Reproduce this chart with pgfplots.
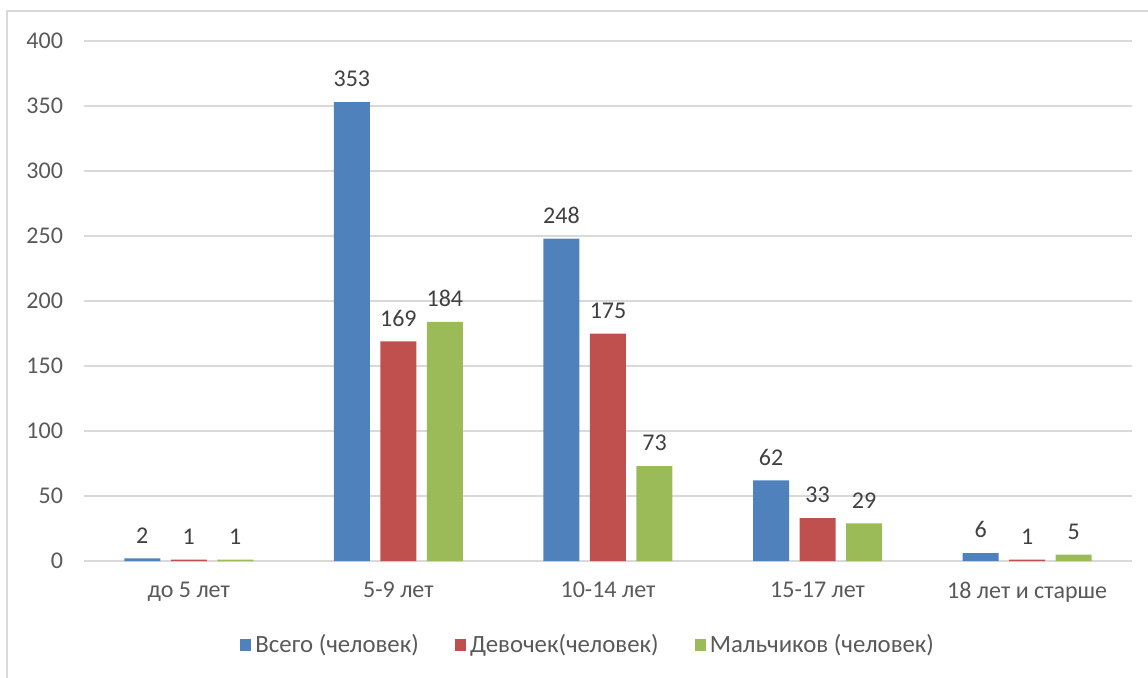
\documentclass[border=0pt]{standalone}
\usepackage{fontspec}
\setmainfont{Carlito}
\usepackage{pgfplots}
\pgfplotsset{compat=1.18}
\definecolor{cBlue}{HTML}{4F81BD}
\definecolor{cRed}{HTML}{C0504D}
\definecolor{cGreen}{HTML}{9BBB59}
\definecolor{cGrid}{HTML}{D9D9D9}
\definecolor{cText}{HTML}{595959}
\definecolor{cLabel}{HTML}{404040}
\begin{document}
\begin{tikzpicture}
\useasboundingbox (-42pt,-58pt) rectangle (532pt,280.5pt);
\draw[cGrid, line width=0.8pt] (-38.5pt,-60pt) -- (-38.5pt,275pt) -- (534pt,275pt);
\begin{axis}[
  at={(0,0)}, anchor=south west,
  scale only axis,
  width=524pt, height=260pt,
  font=\fontsize{12}{14}\selectfont,
  /pgf/number format/assume math mode=true,
  ybar=5.25pt,
  bar width=18pt,
  xmin=-0.5, xmax=4.5,
  ymin=0, ymax=400,
  ytick={0,50,...,400},
  xtick=data,
  xticklabels={до 5 лет, 5-9 лет, 10-14 лет, 15-17 лет, 18 лет и старше},
  axis line style={draw=none},
  major tick length=0pt,
  ymajorgrids,
  grid style={cGrid, line width=0.8pt},
  tick label style={text=cText},
  yticklabel style={xshift=-7pt},
  xticklabel style={yshift=-7pt},
  nodes near coords,
  every node near coord/.append style={text=cLabel, font=\fontsize{12}{14}\selectfont, yshift=4pt},
  legend style={at={(0.482,-0.1615)}, anchor=center, draw=none, legend columns=-1,
    text=cText, font=\fontsize{12.4}{14}\selectfont,
    /tikz/every even column/.append style={column sep=16pt}},
  legend image code/.code={\fill[#1] (0pt,-2.8pt) rectangle (5.6pt,2.8pt);},
]
\addplot[fill=cBlue, draw=none] coordinates {(0,2) (1,353) (2,248) (3,62) (4,6)};
\addplot[fill=cRed, draw=none] coordinates {(0,1) (1,169) (2,175) (3,33) (4,1)};
\addplot[fill=cGreen, draw=none] coordinates {(0,1) (1,184) (2,73) (3,29) (4,5)};
\legend{Всего (человек), Девочек(человек), Мальчиков (человек)}
\end{axis}
\end{tikzpicture}
\end{document}
